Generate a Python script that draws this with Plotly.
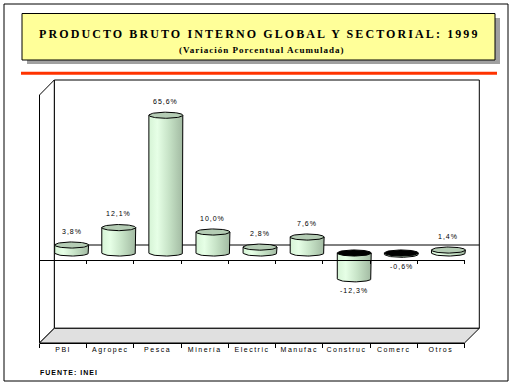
import numpy as np
import plotly.graph_objects as go

# ---------------- data ----------------
categories = ["PBI", "Agropec", "Pesca", "Minería", "Electric", "Manufac", "Construc", "Comerc", "Otros"]
values = [3.8, 12.1, 65.6, 10.0, 2.8, 7.6, -12.3, -0.6, 1.4]
title_text = "PRODUCTO BRUTO INTERNO GLOBAL Y SECTORIAL: 1999"
subtitle_text = "(Variación Porcentual Acumulada)"
source_text = "FUENTE: INEI"

W, H = 512, 386


def X(px):
    return px / W


def Y(py):
    return 1 - py / H


# cylinder geometry (data units)
half_w = 0.36
hy = 1.45
body_scale = [[0, "#D6F4D6"], [0.25, "#E6FFE6"], [0.6, "#C6E2C6"], [1, "#A2BAA2"]]
top_color = "#B4CCB4"

fig = go.Figure()

t_half = np.linspace(0, np.pi, 40)
t_full = np.linspace(0, 2 * np.pi, 80)

for i, v in enumerate(values):
    L, R = i - half_w, i + half_w
    if v >= 0:
        bx = [L, L, R, R] + list(i + half_w * np.cos(t_half))
        by = [0, v, v, 0] + list(0 - hy * np.sin(t_half))
        top_y = v
        tc = top_color
    else:
        bx = [R, R] + list(i + half_w * np.cos(t_half)) + [L, L]
        by = [0, v] + list(v - hy * np.sin(t_half)) + [v, 0]
        top_y = 0
        tc = "#000000"
    fig.add_trace(go.Scatter(
        x=bx, y=by, mode="lines", fill="toself",
        fillgradient=dict(type="horizontal", colorscale=body_scale),
        line=dict(color="black", width=1), hoverinfo="skip", showlegend=False,
        xaxis="x", yaxis="y"))
    fig.add_trace(go.Scatter(
        x=list(i + half_w * np.cos(t_full)), y=list(top_y + hy * np.sin(t_full)),
        mode="lines", fill="toself", fillcolor=tc,
        line=dict(color="black", width=1), hoverinfo="skip", showlegend=False,
        xaxis="x", yaxis="y"))

# invisible traces to drive the front axes
for ax in ("x2", "x3"):
    fig.add_trace(go.Scatter(x=categories, y=[0] * len(categories), mode="markers",
                             marker=dict(opacity=0), hoverinfo="skip", showlegend=False,
                             xaxis=ax, yaxis="y"))

# data labels
annotations = []
for i, v in enumerate(values):
    txt = f"{v:.1f}".replace(".", ",") + "%"
    annotations.append(dict(
        x=i, y=v, xref="x", yref="y", showarrow=False,
        text=f'<span style="letter-spacing:1px">{txt}</span>',
        font=dict(family="Liberation Sans", size=7, color="black"),
        yshift=14 if v >= 0 else -12, yanchor="middle"))

annotations.append(dict(
    x=X(259), y=Y(34), xref="paper", yref="paper", showarrow=False,
    text=f'<span style="letter-spacing:2.1px"><b>{title_text}</b></span>',
    font=dict(family="Liberation Serif", size=12, color="black"), yanchor="middle"))
annotations.append(dict(
    x=X(262), y=Y(49.5), xref="paper", yref="paper", showarrow=False,
    text=f'<span style="letter-spacing:1px"><b>{subtitle_text}</b></span>',
    font=dict(family="Liberation Serif", size=9, color="black"), yanchor="middle"))
annotations.append(dict(
    x=X(38), y=Y(372), xref="paper", yref="paper", showarrow=False, xanchor="left",
    text=f'<span style="letter-spacing:1px"><b>{source_text}</b></span>',
    font=dict(family="Liberation Sans", size=7, color="black"), yanchor="middle"))


def path(pts):
    return "M " + " L ".join(f"{X(a):.5f},{Y(b):.5f}" for a, b in pts) + " Z"


shapes = [
    dict(type="rect", xref="paper", yref="paper", x0=X(4), x1=X(508), y0=Y(4), y1=Y(381),
         line=dict(color="black", width=1), layer="below"),
    dict(type="rect", xref="paper", yref="paper", x0=X(27), x1=X(500), y0=Y(18), y1=Y(64),
         fillcolor="#A0A0A0", line=dict(width=0), layer="below"),
    dict(type="rect", xref="paper", yref="paper", x0=X(22), x1=X(495), y0=Y(13.5), y1=Y(60),
         fillcolor="#FFFF99", line=dict(color="black", width=1), layer="below"),
    dict(type="line", xref="paper", yref="paper", x0=X(21), x1=X(497), y0=Y(73.3), y1=Y(73.3),
         line=dict(color="#FF3300", width=3), layer="below"),
    dict(type="rect", xref="paper", yref="paper", x0=X(54.3), x1=X(479.3), y0=Y(80), y1=Y(328.3),
         fillcolor="white", line=dict(color="black", width=1), layer="below"),
    dict(type="path", xref="paper", yref="paper",
         path=path([(54.3, 80), (39.5, 95), (39.5, 343), (54.3, 328.3)]),
         fillcolor="white", line=dict(color="black", width=1), layer="below"),
    dict(type="path", xref="paper", yref="paper",
         path=path([(54.3, 328.3), (479.3, 328.3), (464.5, 343), (39.5, 343)]),
         fillcolor="#E0E0E0", line=dict(color="black", width=1), layer="below"),
    dict(type="line", xref="paper", yref="paper", x0=X(54.3), x1=X(479.3), y0=Y(245), y1=Y(245),
         line=dict(color="black", width=1), layer="below"),
]

ticktext = [f'<span style="letter-spacing:1.5px">{c}</span>' for c in categories]

fig.update_layout(
    width=W, height=H, margin=dict(l=0, r=0, t=0, b=0),
    paper_bgcolor="white", plot_bgcolor="rgba(0,0,0,0)",
    showlegend=False, shapes=shapes, annotations=annotations,
    xaxis=dict(domain=[X(48.1), X(472)], range=[-0.5, 8.5], visible=False),
    yaxis=dict(domain=[Y(343), Y(80)], range=[-42.86, 82.38], visible=False),
    xaxis2=dict(domain=[X(39.5), X(464.5)], anchor="free", position=Y(343),
                type="category", categoryorder="array", categoryarray=categories,
                range=[-0.5, 8.5], tickson="boundaries", ticks="outside", ticklen=4,
                tickcolor="black", showline=True, linecolor="black", linewidth=1,
                showgrid=False, zeroline=False, layer="below traces", tickangle=0,
                tickvals=categories, ticktext=ticktext,
                tickfont=dict(family="Liberation Sans", size=7, color="black")),
    xaxis3=dict(domain=[X(39.5), X(464.5)], anchor="free", position=Y(259.5),
                type="category", categoryorder="array", categoryarray=categories,
                range=[-0.5, 8.5], tickson="boundaries", ticks="outside", ticklen=3,
                tickcolor="black", showline=True, linecolor="black", linewidth=1,
                showgrid=False, zeroline=False, showticklabels=False, layer="below traces"),
)

fig.write_html(
    "out.html",
    config={"displayModeBar": False},
    post_script="document.body.style.margin='0px';document.body.style.overflow='hidden';",
)
